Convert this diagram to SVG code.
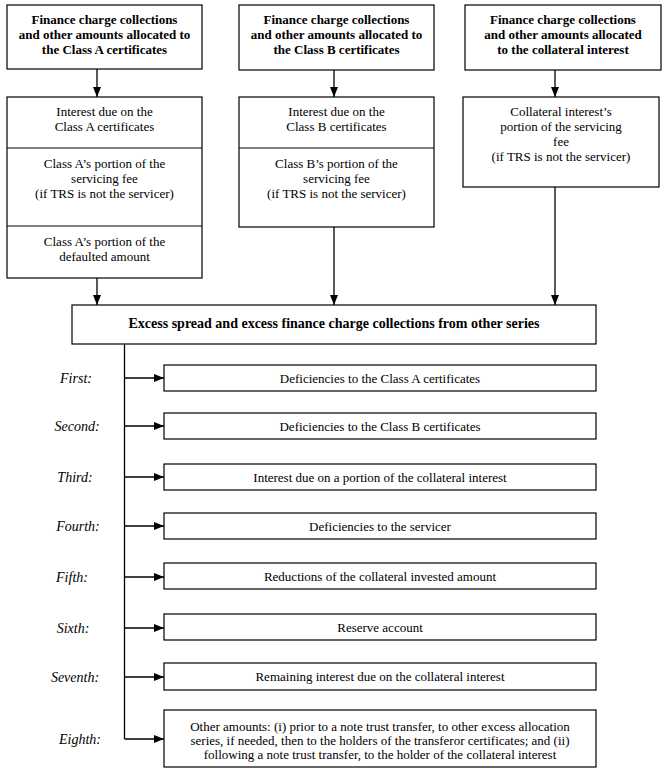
<svg xmlns="http://www.w3.org/2000/svg" width="666" height="773" viewBox="0 0 666 773">
<defs>
<marker id="ah" markerWidth="10" markerHeight="8" refX="10" refY="4" orient="auto" markerUnits="userSpaceOnUse">
<path d="M0,0 L10,4 L0,8 Z" fill="#000"/>
</marker>
<style>
.box{fill:#fff;stroke:#000;stroke-width:1.2}
.t{font-family:"Liberation Serif","Times New Roman",serif;font-size:13px;fill:#000;text-anchor:middle}
.b{font-weight:bold}
.hb{font-family:"Liberation Serif","Times New Roman",serif;font-size:14px;font-weight:bold;fill:#000;text-anchor:middle}
.lab{font-family:"Liberation Serif","Times New Roman",serif;font-size:14px;font-style:italic;fill:#000;text-anchor:middle}
.c{stroke:#000;stroke-width:1.3;fill:none}
.ca{stroke:#000;stroke-width:1.3;fill:none;marker-end:url(#ah)}
</style>
</defs>
<rect width="666" height="773" fill="#fff"/>

<g id="connectors">
<line class="ca" x1="97" y1="69" x2="97" y2="97"/>
<line class="ca" x1="97" y1="278" x2="97" y2="305"/>
<line class="ca" x1="334" y1="70" x2="334" y2="97"/>
<line class="ca" x1="334" y1="227" x2="334" y2="305"/>
<line class="ca" x1="555" y1="70" x2="555" y2="97"/>
<line class="ca" x1="555" y1="187" x2="555" y2="305"/>
<line class="c" x1="124.5" y1="344" x2="124.5" y2="739"/>
<line class="ca" x1="124.5" y1="378" x2="164" y2="378"/>
<line class="ca" x1="124.5" y1="426" x2="164" y2="426"/>
<line class="ca" x1="124.5" y1="477" x2="164" y2="477"/>
<line class="ca" x1="124.5" y1="526" x2="164" y2="526"/>
<line class="ca" x1="124.5" y1="577" x2="164" y2="577"/>
<line class="ca" x1="124.5" y1="628" x2="164" y2="628"/>
<line class="ca" x1="124.5" y1="677" x2="164" y2="677"/>
<line class="ca" x1="124.5" y1="739" x2="164" y2="739"/>
</g>

<g id="topA">
<rect class="box" x="7" y="5" width="195" height="64"/>
<text class="t b" x="104.5" y="24">Finance charge collections</text>
<text class="t b" x="104.5" y="39">and other amounts allocated to</text>
<text class="t b" x="104.5" y="54">the Class A certificates</text>
</g>
<g id="topB">
<rect class="box" x="239" y="5" width="195" height="65"/>
<text class="t b" x="336.5" y="24">Finance charge collections</text>
<text class="t b" x="336.5" y="39">and other amounts allocated to</text>
<text class="t b" x="336.5" y="54">the Class B certificates</text>
</g>
<g id="topC">
<rect class="box" x="465" y="5" width="196" height="65"/>
<text class="t b" x="563" y="24">Finance charge collections</text>
<text class="t b" x="563" y="39">and other amounts allocated</text>
<text class="t b" x="563" y="54">to the collateral interest</text>
</g>

<g id="boxA">
<rect class="box" x="7" y="97" width="195" height="181"/>
<line class="c" x1="7" y1="148" x2="202" y2="148" style="stroke-width:1.2"/>
<line class="c" x1="7" y1="226" x2="202" y2="226" style="stroke-width:1.2"/>
<text class="t" x="104.5" y="115.5">Interest due on the</text>
<text class="t" x="104.5" y="130.5">Class A certificates</text>
<text class="t" x="104.5" y="167.5">Class A’s portion of the</text>
<text class="t" x="104.5" y="182.5">servicing fee</text>
<text class="t" x="104.5" y="197.5">(if TRS is not the servicer)</text>
<text class="t" x="104.5" y="245.5">Class A’s portion of the</text>
<text class="t" x="104.5" y="260.5">defaulted amount</text>
</g>
<g id="boxB">
<rect class="box" x="239" y="97" width="195" height="130"/>
<line class="c" x1="239" y1="148" x2="434" y2="148" style="stroke-width:1.2"/>
<text class="t" x="336.5" y="115.5">Interest due on the</text>
<text class="t" x="336.5" y="130.5">Class B certificates</text>
<text class="t" x="336.5" y="167.5">Class B’s portion of the</text>
<text class="t" x="336.5" y="182.5">servicing fee</text>
<text class="t" x="336.5" y="197.5">(if TRS is not the servicer)</text>
</g>
<g id="boxC">
<rect class="box" x="463" y="97" width="196" height="90"/>
<text class="t" x="561" y="115.5">Collateral interest’s</text>
<text class="t" x="561" y="130.5">portion of the servicing</text>
<text class="t" x="561" y="145.5">fee</text>
<text class="t" x="561" y="160.5">(if TRS is not the servicer)</text>
</g>

<g id="excess">
<rect class="box" x="72" y="305" width="524" height="39"/>
<text class="hb" x="334" y="328">Excess spread and excess finance charge collections from other series</text>
</g>

<g id="first">
<text class="lab" x="76" y="383">First:</text>
<rect class="box" x="164" y="365" width="432" height="26"/>
<text class="t" x="380" y="382.5">Deficiencies to the Class A certificates</text>
</g>
<g id="second">
<text class="lab" x="77" y="431">Second:</text>
<rect class="box" x="164" y="413" width="432" height="26"/>
<text class="t" x="380" y="430.5">Deficiencies to the Class B certificates</text>
</g>
<g id="third">
<text class="lab" x="75" y="482">Third:</text>
<rect class="box" x="164" y="464" width="432" height="26"/>
<text class="t" x="380" y="481.5">Interest due on a portion of the collateral interest</text>
</g>
<g id="fourth">
<text class="lab" x="78" y="531">Fourth:</text>
<rect class="box" x="164" y="513" width="432" height="26"/>
<text class="t" x="380" y="530.5">Deficiencies to the servicer</text>
</g>
<g id="fifth">
<text class="lab" x="72" y="582">Fifth:</text>
<rect class="box" x="164" y="563" width="432" height="26"/>
<text class="t" x="380" y="580.5">Reductions of the collateral invested amount</text>
</g>
<g id="sixth">
<text class="lab" x="73" y="633">Sixth:</text>
<rect class="box" x="164" y="614" width="432" height="26"/>
<text class="t" x="380" y="631.5">Reserve account</text>
</g>
<g id="seventh">
<text class="lab" x="75" y="682">Seventh:</text>
<rect class="box" x="164" y="663" width="432" height="27"/>
<text class="t" x="380" y="681">Remaining interest due on the collateral interest</text>
</g>
<g id="eighth">
<text class="lab" x="80" y="744">Eighth:</text>
<rect class="box" x="164" y="710" width="432" height="57"/>
<text class="t" x="380" y="730.5">Other amounts: (i) prior to a note trust transfer, to other excess allocation</text>
<text class="t" x="380" y="744.5">series, if needed, then to the holders of the transferor certificates; and (ii)</text>
<text class="t" x="380" y="758.5">following a note trust transfer, to the holder of the collateral interest</text>
</g>
</svg>
